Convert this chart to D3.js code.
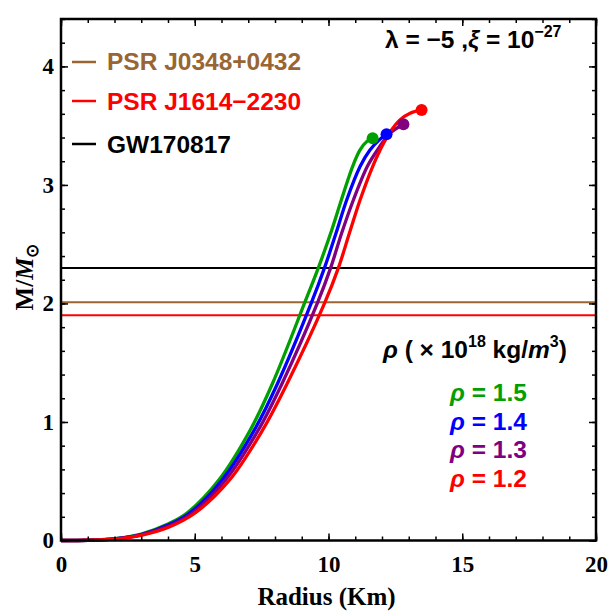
<!DOCTYPE html>
<html><head><meta charset="utf-8">
<script src="https://cdn.jsdelivr.net/npm/d3@7"></script>
<style>body{margin:0;background:#fff} svg{display:block}</style>
</head><body>
<svg id="c" width="609" height="612"></svg>
<script>
// ---------- data ----------
const xTicks = [0, 5, 10, 15, 20];
const yTicks = [0, 1, 2, 3, 4];
const xMinor = d3.range(0, 21, 1);
const yMinor = d3.range(0, 4.41, 0.2);

const rhoValues = ["1.5", "1.4", "1.3", "1.2"];
const curveColors = ["#00a000", "#0000ff", "#800080", "#ff0000"];

const greenR = [0, 1, 2, 3, 4, 4.7, 5.9, 7.07, 7.91, 9.1, 9.62, 10.08, 10.48, 10.9, 11.18, 11.45, 11.65];
const greenM = [0, 0.002, 0.015, 0.055, 0.14, 0.23, 0.51, 0.93, 1.327, 2.0, 2.3, 2.592, 2.873, 3.155, 3.295, 3.37, 3.394];

const blueR = [0, 1, 2, 3, 4, 4.8, 6.02, 7.23, 8.10, 9.35, 9.85, 10.28, 10.68, 11.18, 11.55, 11.9, 12.17];
const blueM = [0, 0.002, 0.014, 0.05, 0.13, 0.23, 0.51, 0.933, 1.327, 2.0, 2.3, 2.592, 2.873, 3.155, 3.295, 3.38, 3.428];

const purpleR = [0, 1, 2, 3, 4, 4.9, 6.15, 7.38, 8.27, 9.58, 10.08, 10.49, 10.93, 11.45, 11.83, 12.30, 12.8];
const purpleM = [0, 0.002, 0.013, 0.047, 0.12, 0.23, 0.51, 0.933, 1.327, 2.0, 2.3, 2.592, 2.873, 3.155, 3.295, 3.436, 3.512];

const redR = [0, 1, 2, 3, 4, 5.0, 6.3, 7.54, 8.46, 9.85, 10.37, 10.78, 11.18, 11.65, 11.93, 12.27, 12.67, 13.05, 13.48];
const redM = [0, 0.002, 0.012, 0.044, 0.11, 0.23, 0.51, 0.933, 1.327, 2.0, 2.3, 2.592, 2.873, 3.155, 3.295, 3.436, 3.549, 3.605, 3.633];

const obsNames = ["PSR J0348+0432", "PSR J1614\u22122230", "GW170817"];
const obsMass = [2.01, 1.9, 2.3];
const obsColors = ["#996633", "#ff0000", "#000000"];

// ---------- layout ----------
const svg = d3.select("#c");
const L = 61, R = 596, T = 19, B = 540.5;
const x = d3.scaleLinear().domain([0, 20]).range([L, R]);
const y = d3.scaleLinear().domain([0, 4.4]).range([B, T]);

const series = [
  {R: greenR, M: greenM},
  {R: blueR, M: blueM},
  {R: purpleR, M: purpleM},
  {R: redR, M: redM}
];

const serif = "'Liberation Serif','Times New Roman',serif";
const sans = "'Liberation Sans',Arial,sans-serif";
const FS = 24.5;

// horizontal observational lines
svg.selectAll("line.obs").data(obsMass).enter().append("line")
  .attr("class", "obs")
  .attr("x1", x(0)).attr("x2", x(20))
  .attr("y1", d => y(d)).attr("y2", d => y(d))
  .attr("stroke", (d, i) => obsColors[i]).attr("stroke-width", 2);

// curves
const line = d3.line().x(d => x(d[0])).y(d => y(d[1])).curve(d3.curveCatmullRom.alpha(0.5));
series.forEach((s, i) => {
  const pts = s.R.map((r, k) => [r, s.M[k]]);
  svg.append("path").datum(pts).attr("d", line)
    .attr("fill", "none").attr("stroke", curveColors[i]).attr("stroke-width", 3.3)
    .attr("stroke-linejoin", "round");
});
series.forEach((s, i) => {
  const n = s.R.length - 1;
  svg.append("circle").attr("cx", x(s.R[n])).attr("cy", y(s.M[n])).attr("r", 6)
    .attr("fill", curveColors[i]);
});

// axes with inward ticks
function styleAxis(g) {
  g.select(".domain").remove();
  g.selectAll(".tick line").attr("stroke", "#000").attr("stroke-width", 1.5);
}
svg.append("g").attr("transform", `translate(0,${B})`)
  .call(d3.axisBottom(x).tickValues(xMinor).tickSize(-4).tickFormat("")).call(styleAxis);
svg.append("g").attr("transform", `translate(0,${B})`)
  .call(d3.axisBottom(x).tickValues(xTicks).tickSize(-7).tickPadding(15).tickFormat(d3.format("d"))).call(styleAxis)
  .selectAll("text").attr("font-family", serif).attr("font-weight", "bold").attr("font-size", 23).attr("fill", "#000");
svg.append("g").attr("transform", `translate(0,${T})`)
  .call(d3.axisTop(x).tickValues(xMinor).tickSize(-4).tickFormat("")).call(styleAxis);
svg.append("g").attr("transform", `translate(0,${T})`)
  .call(d3.axisTop(x).tickValues(xTicks).tickSize(-7).tickFormat("")).call(styleAxis);

svg.append("g").attr("transform", `translate(${L},0)`)
  .call(d3.axisLeft(y).tickValues(yMinor).tickSize(-4).tickFormat("")).call(styleAxis);
svg.append("g").attr("transform", `translate(${L},0)`)
  .call(d3.axisLeft(y).tickValues(yTicks).tickSize(-7).tickPadding(7).tickFormat(d3.format("d"))).call(styleAxis)
  .selectAll("text").attr("font-family", serif).attr("font-weight", "bold").attr("font-size", 23).attr("fill", "#000");
svg.append("g").attr("transform", `translate(${R},0)`)
  .call(d3.axisRight(y).tickValues(yMinor).tickSize(-4).tickFormat("")).call(styleAxis);
svg.append("g").attr("transform", `translate(${R},0)`)
  .call(d3.axisRight(y).tickValues(yTicks).tickSize(-7).tickFormat("")).call(styleAxis);

// frame
svg.append("rect").attr("x", L).attr("y", T).attr("width", R - L).attr("height", B - T)
  .attr("fill", "none").attr("stroke", "#000").attr("stroke-width", 2.5);

// axis titles
svg.append("text").attr("x", (L + R) / 2 - 2).attr("y", 605).attr("text-anchor", "middle")
  .attr("font-family", serif).attr("font-weight", "bold").attr("font-size", 25)
  .text("Radius (Km)");
const yl = svg.append("text").attr("transform", "translate(33,277) rotate(-90)")
  .attr("text-anchor", "middle").attr("font-family", serif).attr("font-weight", "bold").attr("font-size", 25);
yl.append("tspan").text("M/");
yl.append("tspan").attr("font-style", "italic").text("M");
yl.append("tspan").attr("font-size", 17).attr("dy", 5).text("\u2299");

// observational legend
const legY = [62, 101, 144];
const legBase = [70, 110, 153];
obsNames.forEach((n, i) => {
  svg.append("line").attr("x1", 72).attr("x2", 96).attr("y1", legY[i]).attr("y2", legY[i])
    .attr("stroke", obsColors[i]).attr("stroke-width", 2.5);
  svg.append("text").attr("x", 107).attr("y", legBase[i])
    .attr("font-family", sans).attr("font-weight", "bold").attr("font-size", FS)
    .attr("fill", obsColors[i]).text(n);
});

// parameter text
const pt = svg.append("text").attr("x", 385).attr("y", 48)
  .attr("font-family", sans).attr("font-weight", "bold").attr("font-size", FS).attr("fill", "#000");
pt.append("tspan").text("\u03bb = \u22125 ,");
pt.append("tspan").attr("font-style", "italic").text("\u03be");
pt.append("tspan").text(" = 10");
pt.append("tspan").attr("font-size", 16).attr("dy", -11).text("\u221227");

// density title
const dt = svg.append("text").attr("x", 383).attr("y", 358)
  .attr("font-family", sans).attr("font-weight", "bold").attr("font-size", FS).attr("fill", "#000");
dt.append("tspan").attr("font-style", "italic").text("\u03c1");
dt.append("tspan").text(" ( \u00d7 10");
dt.append("tspan").attr("font-size", 16).attr("dy", -11).text("18");
dt.append("tspan").attr("dy", 11).text(" kg/");
dt.append("tspan").attr("font-style", "italic").text("m");
dt.append("tspan").attr("font-size", 16).attr("dy", -11).text("3");
dt.append("tspan").attr("dy", 11).text(")");

// density legend
const rhoBase = [401, 430, 458, 487];
rhoValues.forEach((v, i) => {
  const t = svg.append("text").attr("x", 450).attr("y", rhoBase[i])
    .attr("font-family", sans).attr("font-weight", "bold").attr("font-size", FS)
    .attr("fill", curveColors[i]);
  t.append("tspan").attr("font-style", "italic").text("\u03c1");
  t.append("tspan").text(" = " + v);
});
</script>
</body></html>
